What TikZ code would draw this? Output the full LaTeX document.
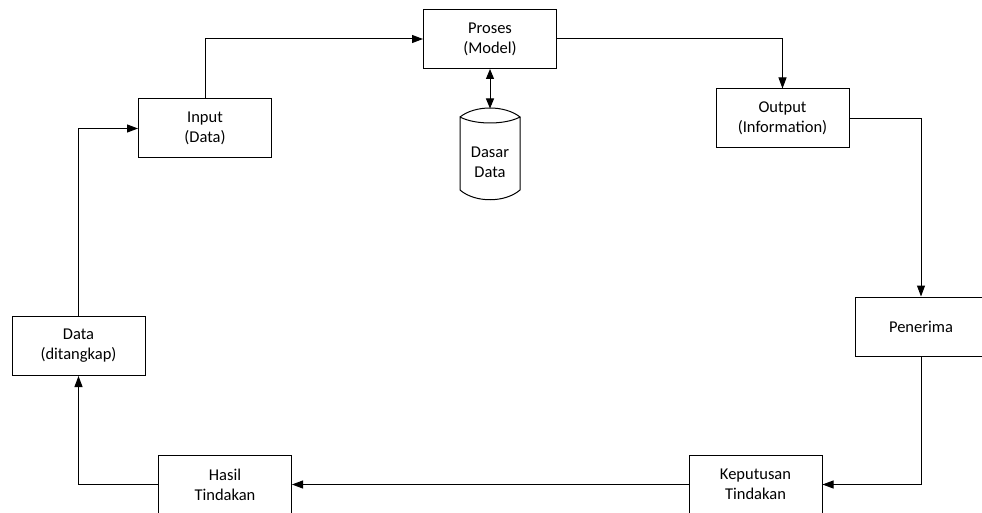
\documentclass[tikz,border=0pt]{standalone}
\usepackage{fontspec}
\setmainfont{Carlito}
\usetikzlibrary{arrows.meta}
\begin{document}
\begin{tikzpicture}[x=1pt,y=-1pt,
  box/.style={draw,line width=1pt,rectangle,minimum width=133pt,minimum height=59pt,inner sep=0pt,align=center,font=\fontsize{16.5}{20}\selectfont},
  conn/.style={line width=1pt,-{Triangle[length=11pt,width=8pt]}},
  dconn/.style={line width=1pt,{Triangle[length=10pt,width=8pt]}-{Triangle[length=10pt,width=8pt]}},
  lbl/.style={align=center,inner sep=0pt,font=\fontsize{16.5}{20}\selectfont}]
\useasboundingbox (0,0) rectangle (982,513);
\clip (0,0) rectangle (982,513);
\fill[white] (0,0) rectangle (982,513);
\node[box] (proses) at (490,39) {Proses\\(Model)};
\node[box] (input) at (205,128.5) {Input\\(Data)};
\node[box] (output) at (782.5,118.5) {Output\\(Information)};
\node[box,minimum width=132pt] (penerima) at (921,326.5) {Penerima};
\node[box] (keputusan) at (755.5,484.5) {Keputusan\\Tindakan};
\node[box] (hasil) at (225,484.5) {Hasil\\Tindakan};
\node[box] (data) at (78.5,346) {Data\\(ditangkap)};
% cylinder
\draw[line width=1pt] (460,117) .. controls (475,105) and (505,105) .. (520,117)
  .. controls (505,125) and (475,125) .. (460,117) -- (460,190)
  .. controls (475,203) and (505,203) .. (520,190) -- (520,117);
\coordinate (cyltop) at (490,108.5);
\node[lbl] (dasar) at (490,162) {Dasar\\Data};
% connectors
\draw[conn] (data.north) |- (input.west);
\draw[conn] (input.north) |- (proses.west);
\draw[conn] (proses.east) -| (output.north);
\draw[conn] (output.east) -| (penerima.north);
\draw[conn] (penerima.south) |- (keputusan.east);
\draw[conn] (keputusan.west) -- (hasil.east);
\draw[conn] (hasil.west) -| (data.south);
\draw[dconn] (proses.south) -- (cyltop);
\end{tikzpicture}
\end{document}
